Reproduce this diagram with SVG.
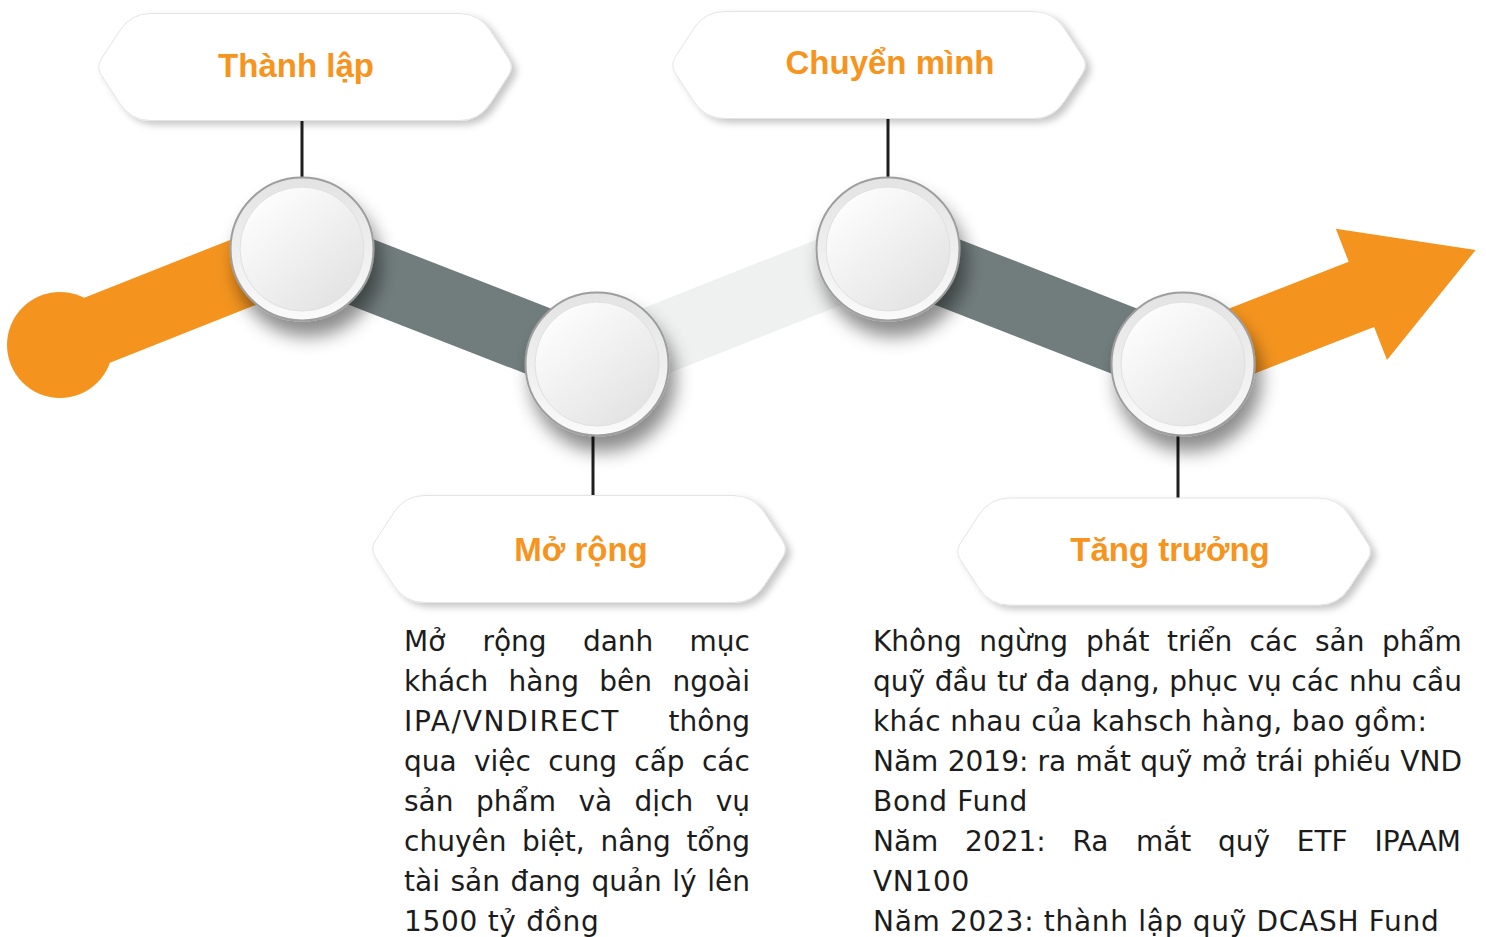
<svg xmlns="http://www.w3.org/2000/svg" xmlns:xlink="http://www.w3.org/1999/xlink" width="1486" height="937" viewBox="0 0 1486 937">
  <style>
    .title { font-family: "Liberation Sans", Arial, sans-serif; font-weight: bold; font-size: 33px; fill: #F7941D; text-anchor: middle; }
    .body { font-family: "DejaVu Sans", "Liberation Sans", sans-serif; font-size: 28px; fill: #1c1c1c; }
    .hex { fill: #ffffff; stroke: #e4e4e4; stroke-width: 1; filter: url(#hexShadow); }
    .stem { stroke: #1e1e1e; stroke-width: 3; fill: none; }
    .orange { fill: #F4941F; }
    .grayband { stroke: #717c7c; stroke-width: 70; }
    .lightband { stroke: #eff1f1; stroke-width: 70; }
    .loose { letter-spacing: 0.7px; }
  </style>
  <defs>
    <filter id="hexShadow" x="-10%" y="-20%" width="125%" height="150%">
      <feDropShadow dx="5" dy="4" stdDeviation="3.5" flood-color="#000" flood-opacity="0.22"/>
    </filter>
    <filter id="circleShadow" x="-40%" y="-40%" width="190%" height="200%">
      <feDropShadow dx="6" dy="15" stdDeviation="9" flood-color="#000" flood-opacity="0.45"/>
    </filter>
    <linearGradient id="ringGrad" x1="0" y1="0" x2="0" y2="1">
      <stop offset="0" stop-color="#e3e3e3"/>
      <stop offset="1" stop-color="#fafafa"/>
    </linearGradient>
    <linearGradient id="discGrad" x1="0.15" y1="0.1" x2="0.85" y2="0.9">
      <stop offset="0" stop-color="#fdfdfd"/>
      <stop offset="1" stop-color="#e3e3e3"/>
    </linearGradient>
    <path id="hexShape" d="M -154,-53.5 H 154 Q 174,-53.5 184.96,-36.76 L 203.52,-8.37 Q 209,0 203.52,8.37 L 184.96,36.76 Q 174,53.5 154,53.5 H -154 Q -174,53.5 -184.96,36.76 L -203.52,8.37 Q -209,0 -203.52,-8.37 L -184.96,-36.76 Q -174,-53.5 -154,-53.5 Z"/>
    <g id="milestone">
      <circle r="71.5" fill="url(#ringGrad)" stroke="#9e9e9e" stroke-width="2"/>
      <circle r="62" fill="url(#discGrad)" stroke="#e0e0e0" stroke-width="1"/>
    </g>
  </defs>

  <g id="connectors">
    <!-- timeline bands -->
    <circle class="orange" cx="60" cy="345" r="53"/>
    <polygon class="orange" points="47.1,312.5 289.1,216.5 314.9,281.5 72.9,377.5"/>
    <line class="grayband" x1="302" y1="249" x2="597" y2="364"/>
    <line class="lightband" x1="597" y1="364" x2="888" y2="249"/>
    <line class="grayband" x1="888" y1="249" x2="1183" y2="364"/>
    <polygon class="orange" points="1170.3,331.4 1348.7,261.8 1335.8,228.7 1475.7,249.9 1387,360.1 1374.1,327 1195.7,396.6"/>
    <!-- stems -->
    <line class="stem" x1="302" y1="120" x2="302" y2="180"/>
    <line class="stem" x1="888" y1="117" x2="888" y2="180"/>
    <line class="stem" x1="593" y1="434" x2="593" y2="496"/>
    <line class="stem" x1="1178" y1="434" x2="1178" y2="499"/>
  </g>

  <g id="milestone-1" filter="url(#circleShadow)"><use xlink:href="#milestone" x="302" y="249"/></g>
  <g id="milestone-2" filter="url(#circleShadow)"><use xlink:href="#milestone" x="597" y="364"/></g>
  <g id="milestone-3" filter="url(#circleShadow)"><use xlink:href="#milestone" x="888" y="249"/></g>
  <g id="milestone-4" filter="url(#circleShadow)"><use xlink:href="#milestone" x="1183" y="364"/></g>

  <g id="node-thanh-lap">
    <use xlink:href="#hexShape" class="hex" transform="translate(305,67)"/>
    <text class="title" x="296" y="77">Thành lập</text>
  </g>
  <g id="node-chuyen-minh">
    <use xlink:href="#hexShape" class="hex" transform="translate(879,65)"/>
    <text class="title" x="890" y="74">Chuyển mình</text>
  </g>
  <g id="node-mo-rong">
    <use xlink:href="#hexShape" class="hex" transform="translate(579,549)"/>
    <text class="title" x="581" y="561">Mở rộng</text>
  </g>
  <g id="node-tang-truong">
    <use xlink:href="#hexShape" class="hex" transform="translate(1164,551.5)"/>
    <text class="title" x="1170" y="561">Tăng trưởng</text>
  </g>

  <g id="text-mo-rong" class="body">
    <text y="651"><tspan x="404">Mở</tspan> <tspan x="482.4">rộng</tspan> <tspan x="582.9">danh</tspan> <tspan x="689.6">mục</tspan></text>
    <text y="691"><tspan x="404">khách</tspan> <tspan x="508.6">hàng</tspan> <tspan x="599.3">bên</tspan> <tspan x="672.4">ngoài</tspan></text>
    <text y="731"><tspan x="404" style="letter-spacing:1.7px">IPA/VNDIRECT</tspan> <tspan x="668.6">thông</tspan></text>
    <text y="771"><tspan x="404">qua</tspan> <tspan x="474">việc</tspan> <tspan x="548.3">cung</tspan> <tspan x="634.3">cấp</tspan> <tspan x="701.9">các</tspan></text>
    <text y="811"><tspan x="404">sản</tspan> <tspan x="476">phẩm</tspan> <tspan x="578.4">và</tspan> <tspan x="634.6">dịch</tspan> <tspan x="715.7">vụ</tspan></text>
    <text y="851"><tspan x="404">chuyên</tspan> <tspan x="522.1">biệt,</tspan> <tspan x="600.4">nâng</tspan> <tspan x="686.4">tổng</tspan></text>
    <text y="891"><tspan x="404">tài</tspan> <tspan x="450.4">sản</tspan> <tspan x="510.4">đang</tspan> <tspan x="591.4">quản</tspan> <tspan x="672.3">lý</tspan> <tspan x="707.2">lên</tspan></text>
    <text class="loose" x="404" y="931">1500 tỷ đồng</text>
  </g>

  <g id="text-tang-truong" class="body">
    <text y="651"><tspan x="873">Không</tspan> <tspan x="979.2">ngừng</tspan> <tspan x="1085.9">phát</tspan> <tspan x="1167">triển</tspan> <tspan x="1249.6">các</tspan> <tspan x="1315">sản</tspan> <tspan x="1381.9">phẩm</tspan></text>
    <text y="691"><tspan x="873">quỹ</tspan> <tspan x="934.7">đầu</tspan> <tspan x="996.9">tư</tspan> <tspan x="1035.7">đa</tspan> <tspan x="1080.2">dạng,</tspan> <tspan x="1169.2">phục</tspan> <tspan x="1247.4">vụ</tspan> <tspan x="1291.3">các</tspan> <tspan x="1348.9">nhu</tspan> <tspan x="1411.7">cầu</tspan></text>
    <text x="873" y="731" style="letter-spacing:0.35px">khác nhau của kahsch hàng, bao gồm:</text>
    <text y="771"><tspan x="873">Năm</tspan> <tspan x="947.7">2019:</tspan> <tspan x="1037.6">ra</tspan> <tspan x="1075.6">mắt</tspan> <tspan x="1140.2">quỹ</tspan> <tspan x="1201.6">mở</tspan> <tspan x="1256.1">trái</tspan> <tspan x="1312.7">phiếu</tspan> <tspan x="1400.3">VND</tspan></text>
    <text class="loose" x="873" y="811">Bond Fund</text>
    <text y="851"><tspan x="873">Năm</tspan> <tspan x="965.1">2021:</tspan> <tspan x="1072.5">Ra</tspan> <tspan x="1135.9">mắt</tspan> <tspan x="1218">quỹ</tspan> <tspan x="1296.8">ETF</tspan> <tspan x="1374.4">IPAAM</tspan></text>
    <text class="loose" x="873" y="891">VN100</text>
    <text class="loose" x="873" y="931">Năm 2023: thành lập quỹ DCASH Fund</text>
  </g>
</svg>
